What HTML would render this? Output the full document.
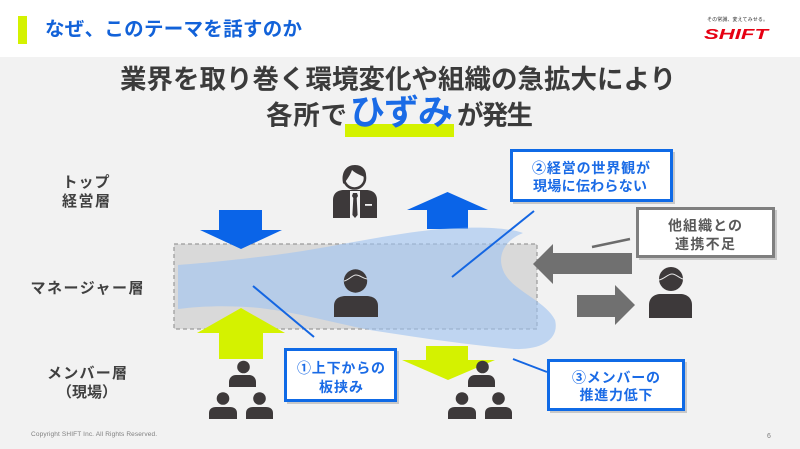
<!DOCTYPE html>
<html><head><meta charset="utf-8"><style>
html,body{margin:0;padding:0;background:#f2f2f2;}
svg{display:block;}
text{font-family:"Liberation Sans","Noto Sans CJK JP",sans-serif;}
</style></head><body>
<svg width="800" height="449" viewBox="0 0 800 449" xmlns="http://www.w3.org/2000/svg">
<rect x="0" y="0" width="800" height="449" fill="#f2f2f2"/>
<rect x="0" y="0" width="800" height="57" fill="#ffffff"/>
<rect x="18" y="16" width="9" height="28" fill="#d4f200"/>
<text x="45" y="35.5" font-size="19.5" font-weight="bold" fill="#1262d9" textLength="257">なぜ、このテーマを話すのか</text>
<text x="707" y="21" font-size="5" fill="#333" textLength="61">その常識、変えてみせる。</text>
<text x="704" y="39" font-size="15" font-weight="bold" font-style="italic" fill="#e60012" textLength="64" lengthAdjust="spacingAndGlyphs">SHIFT</text>

<text x="398" y="88.5" text-anchor="middle" font-size="26.5" font-weight="bold" fill="#3b3b3b" textLength="556">業界を取り巻く環境変化や組織の急拡大により</text>
<rect x="345" y="124" width="109" height="13" fill="#d4f200"/>
<text x="266" y="124.5" font-size="26.5" font-weight="bold" fill="#3b3b3b" textLength="81">各所で</text>
<text x="350" y="124.5" font-size="35" font-weight="bold" fill="#1a6be6" textLength="103">ひずみ</text>
<text x="457" y="124.5" font-size="26.5" font-weight="bold" fill="#3b3b3b" textLength="76">が発生</text>

<!-- left labels -->
<g font-size="15" font-weight="bold" fill="#404040" text-anchor="middle">
<text x="86" y="187" textLength="47">トップ</text>
<text x="86" y="206" textLength="48">経営層</text>
<text x="87" y="293" textLength="113">マネージャー層</text>
<text x="87" y="378" textLength="80">メンバー層</text>
<text x="87" y="397">（現場）</text>
</g>

<!-- dashed manager rect -->
<rect x="174" y="244" width="363" height="85" fill="#d9d9d9" stroke="#9a9a9a" stroke-width="1.2" stroke-dasharray="4,3"/>

<!-- blue arrows -->
<polygon points="219,210 262,210 262,230 282,230 241,249 200,230 219,230" fill="#0a64e8"/>
<polygon points="447.5,192 488,210 468,210 468,229 427,229 427,210 407,210" fill="#0a64e8"/>

<!-- gray arrows -->
<polygon points="533,264 553,244 553,253 632,253 632,274 553,274 553,284" fill="#707070"/>
<polygon points="577,295 615,295 615,285 635,305 615,325 615,317 577,317" fill="#707070"/>

<!-- blob -->
<path d="M178,265 C220,262 250,258 275,255 C330,248 380,235 440,229 C480,226 510,228 523,233 C505,240 497,255 503,270 C510,290 545,300 555,320 C560,340 540,350 515,349 C470,345 420,338 370,330 C330,322 300,313 260,308 C230,305 200,306 178,309 Z" fill="#9fc3f0" fill-opacity="0.62"/>

<!-- yellow arrows -->
<polygon points="241,308 285,333 263,333 263,359 219,359 219,333 197,333" fill="#d4f200"/>
<polygon points="426,346 468,346 468,360 495,360 448,380 402,360 426,360" fill="#d4f200"/>

<g fill="#3d393a">
<!-- executive -->
<path d="M333,218 L333,200 C333,193 338,190 344,190 L366,190 C372,190 377,193 377,200 L377,218 Z"/>
<circle cx="354.5" cy="178" r="10.5" fill="#f2f2f2" stroke="#3d393a" stroke-width="2.6"/>
<path d="M343,183 C341,171 347,165 355,165 C363,165 367,171 366,178 C361,175 356,174 352,170 C350,176 347,179 344,184 Z"/>
<!-- manager -->
<circle cx="355.5" cy="281" r="11.7"/>
<path d="M334,317 L334,306 C334,299 339,296 346,296 L366,296 C373,296 378,299 378,306 L378,317 Z"/>
<!-- external -->
<circle cx="671" cy="279" r="12"/>
<path d="M649,318 L649,305 C649,298 654,294 661,294 L680,294 C687,294 692,298 692,305 L692,318 Z"/>
<!-- member group left -->
<circle cx="243.5" cy="367" r="6.3"/>
<path d="M229,387 L229,382 C229,378 232,375 236,375 L249,375 C253,375 256,378 256,382 L256,387 Z"/>
<circle cx="223" cy="398.5" r="6.3"/>
<path d="M209,419 L209,413 C209,409 212,407 216,407 L230,407 C234,407 237,409 237,413 L237,419 Z"/>
<circle cx="259.5" cy="398.5" r="6.3"/>
<path d="M246,419 L246,413 C246,409 249,407 253,407 L266,407 C270,407 273,409 273,413 L273,419 Z"/>
<!-- member group mid -->
<circle cx="482.5" cy="367" r="6.3"/>
<path d="M468,387 L468,382 C468,378 471,375 475,375 L488,375 C492,375 495,378 495,382 L495,387 Z"/>
<circle cx="462" cy="398.5" r="6.3"/>
<path d="M448,419 L448,413 C448,409 451,407 455,407 L469,407 C473,407 476,409 476,413 L476,419 Z"/>
<circle cx="498.5" cy="398.5" r="6.3"/>
<path d="M485,419 L485,413 C485,409 488,407 492,407 L505,407 C509,407 512,409 512,413 L512,419 Z"/>
</g>
<!-- executive shirt/tie -->
<rect x="350" y="191" width="10" height="27" fill="#f2f2f2"/>
<polygon points="353,193 357,193 358,196 356.7,198 357.6,215 355,218 352.4,215 353.3,198 352,196" fill="#3d393a"/>
<rect x="365" y="204" width="7" height="1.8" fill="#f2f2f2"/>
<!-- hair lines -->
<path d="M344,281 C349,280 352,275 356,275 C360,275 362,278 367,279" fill="none" stroke="#e8e8e8" stroke-width="1"/>
<path d="M659,280 C664,279 668,274 672,274 C676,274 679,278 683,279" fill="none" stroke="#e8e8e8" stroke-width="1"/>

<!-- pointer lines -->
<g stroke="#1466e2" stroke-width="2" fill="none">
<line x1="253" y1="286" x2="314" y2="337"/>
<line x1="534" y1="211" x2="452" y2="277"/>
<line x1="513" y1="359" x2="547" y2="372"/>
</g>
<line x1="592" y1="247" x2="630" y2="239" stroke="#6b6b6b" stroke-width="2.5"/>

<!-- callouts -->
<g>
<rect x="513" y="152" width="162" height="52" fill="#c8c8c8"/>
<rect x="511.5" y="150.5" width="160" height="50" fill="#ffffff" stroke="#0f6ae6" stroke-width="3"/>
<rect x="639" y="210" width="138" height="50" fill="#c8c8c8"/>
<rect x="637.5" y="208.5" width="136" height="48" fill="#ffffff" stroke="#7f7f7f" stroke-width="3"/>
<rect x="287" y="351" width="112" height="53" fill="#c8c8c8"/>
<rect x="285.5" y="349.5" width="110" height="51" fill="#ffffff" stroke="#0f6ae6" stroke-width="3"/>
<rect x="550" y="362" width="137" height="51" fill="#c8c8c8"/>
<rect x="548.5" y="360.5" width="135" height="49" fill="#ffffff" stroke="#0f6ae6" stroke-width="3"/>
</g>
<g font-size="14" font-weight="bold" fill="#1a6be6" text-anchor="middle">
<text x="591" y="173" textLength="118">②経営の世界観が</text>
<text x="590" y="191" textLength="114">現場に伝わらない</text>
<text x="341" y="373" textLength="88">①上下からの</text>
<text x="341" y="392" textLength="44">板挟み</text>
<text x="616" y="382.5" textLength="88">③メンバーの</text>
<text x="616" y="400" textLength="73">推進力低下</text>
</g>
<g font-size="14" font-weight="bold" fill="#595959" text-anchor="middle">
<text x="705" y="230.5" textLength="74">他組織との</text>
<text x="705" y="249" textLength="60">連携不足</text>
</g>

<text x="31" y="436" font-size="6.5" fill="#7f7f7f" textLength="126">Copyright SHIFT Inc. All Rights Reserved.</text>
<text x="767" y="438" font-size="7" fill="#7f7f7f">6</text>
</svg>
</body></html>
